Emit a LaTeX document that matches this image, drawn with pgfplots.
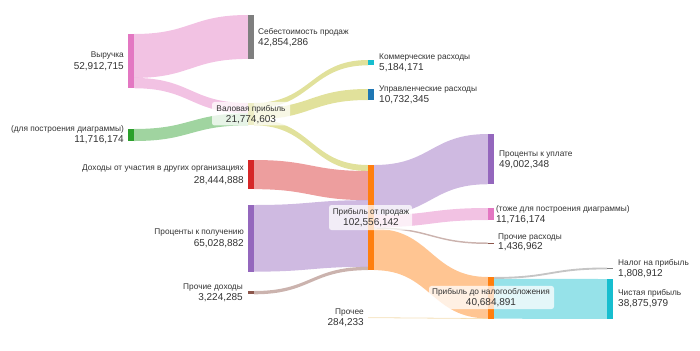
\documentclass[border=0pt]{standalone}
\usepackage{fontspec}
\setmainfont{Liberation Sans}
\usepackage{pgfplots}
\pgfplotsset{compat=1.18}
\definecolor{cpink}{HTML}{E377C2}
\definecolor{cgray}{HTML}{7F7F7F}
\definecolor{cgreen}{HTML}{2CA02C}
\definecolor{colive}{HTML}{BCBD22}
\definecolor{ccyan}{HTML}{17BECF}
\definecolor{cblue}{HTML}{1F77B4}
\definecolor{cred}{HTML}{D62728}
\definecolor{cpurple}{HTML}{9467BD}
\definecolor{cbrown}{HTML}{8C564B}
\definecolor{corange}{HTML}{FF7F0E}
\definecolor{ctext}{HTML}{333333}
\definecolor{cpale}{HTML}{E9C070}
% flow: x0, xm, x1, y0top, y0bot, y1top, y1bot, colour
\newcommand{\flow}[8]{\fill[#8, fill opacity=0.45] (axis cs:#1,#4) .. controls (axis cs:#2,#4) and (axis cs:#2,#6) .. (axis cs:#3,#6) -- (axis cs:#3,#7) .. controls (axis cs:#2,#7) and (axis cs:#2,#5) .. (axis cs:#1,#5) -- cycle;}
% node bar: x0, x1, top, bottom, colour
\newcommand{\nodebar}[5]{\addplot[fill=#5, draw=none, mark=none] coordinates {(#1,#3) (#2,#3) (#2,#4) (#1,#4)};}
\newcommand{\nm}{\fontsize{8.3bp}{9bp}\selectfont}
\newcommand{\vl}{\fontsize{10bp}{11bp}\selectfont}
\begin{document}
\begin{tikzpicture}
\begin{axis}[name=ax, width=700bp, height=350bp, scale only axis, hide axis,
  xmin=0, xmax=700, ymin=0, ymax=341.4634, y dir=reverse, clip=false]
% ---- flows
\flow{134}{191}{248}{33.17}{76.02}{14.63}{57.49}{cpink}
\flow{134}{191}{248}{76.02}{86.08}{100.49}{110.55}{cpink}
\flow{134}{191}{248}{125.85}{137.57}{110.55}{122.27}{cgreen}
\flow{254}{311}{368}{100.49}{105.67}{58.54}{63.72}{colive}
\flow{254}{311}{368}{105.67}{116.40}{86.83}{97.56}{colive}
\flow{254}{311}{368}{116.40}{122.26}{160.98}{166.84}{colive}
\flow{254}{311}{368}{156.10}{184.54}{166.84}{195.28}{cred}
\flow{254}{311}{368}{200.00}{265.03}{195.28}{260.31}{cpurple}
\flow{254}{311}{368}{283.90}{287.12}{260.31}{263.53}{cbrown}
\flow{374}{431}{488}{160.98}{209.98}{130.73}{179.73}{cpurple}
\flow{374}{431}{488}{209.98}{221.70}{202.93}{214.65}{cpink}
\flow{374}{431}{488}{221.70}{223.14}{236.59}{238.03}{cbrown}
\flow{374}{431}{488}{223.14}{263.54}{270.24}{310.64}{corange}
\flow{368}{428}{488}{309.76}{310.04}{310.64}{310.92}{cpale}
\draw[cpale, opacity=0.35, line width=0.8bp] (axis cs:368,309.9) .. controls (axis cs:428,309.9) and (axis cs:428,310.78) .. (axis cs:488,310.78);
\flow{494}{550.5}{607}{270.24}{272.05}{260.98}{262.79}{cgray}
\flow{494}{550.5}{607}{272.05}{310.93}{272.20}{311.08}{ccyan}
% ---- nodes
\nodebar{128}{134}{33.17}{86.08}{cpink}
\nodebar{248}{254}{14.63}{57.49}{cgray}
\nodebar{128}{134}{125.85}{137.57}{cgreen}
\nodebar{248}{254}{100.49}{122.26}{colive}
\nodebar{368}{374}{58.54}{63.72}{ccyan}
\nodebar{368}{374}{86.83}{97.56}{cblue}
\nodebar{248}{254}{156.10}{184.54}{cred}
\nodebar{248}{254}{200.00}{265.03}{cpurple}
\nodebar{248}{254}{283.90}{287.12}{cbrown}
\nodebar{368}{374}{160.98}{263.54}{corange}
\nodebar{488}{494}{130.73}{179.73}{cpurple}
\nodebar{488}{494}{202.93}{214.65}{cpink}
\nodebar{488}{494}{236.59}{238.03}{cbrown}
\nodebar{488}{494}{270.24}{310.93}{corange}
\nodebar{607}{613}{260.98}{262.79}{cgray}
\nodebar{607}{613}{272.20}{311.08}{ccyan}
% ---- label boxes
\fill[white, fill opacity=0.75, rounded corners=2.5bp] (axis cs:212,99.5) rectangle (axis cs:290,122.4);
\fill[white, fill opacity=0.75, rounded corners=2.5bp] (axis cs:329,200.0) rectangle (axis cs:412,224.4);
\fill[white, fill opacity=0.75, rounded corners=2.5bp] (axis cs:429,279.0) rectangle (axis cs:554,301.5);
% ---- labels, left of node
\node[anchor=east, inner sep=0pt, text=ctext] at (axis cs:124,54.2) {\nm Выручка};
\node[anchor=east, inner sep=0pt, text=ctext] at (axis cs:124,65.4) {\vl 52,912,715};
\node[anchor=east, inner sep=0pt, text=ctext] at (axis cs:124,125.8) {\nm (для построения диаграммы)};
\node[anchor=east, inner sep=0pt, text=ctext] at (axis cs:124,136.5) {\vl 11,716,174};
\node[anchor=east, inner sep=0pt, text=ctext] at (axis cs:244,164.2) {\nm Доходы от участия в других организациях};
\node[anchor=east, inner sep=0pt, text=ctext] at (axis cs:244,176.1) {\vl 28,444,888};
\node[anchor=east, inner sep=0pt, text=ctext] at (axis cs:244,227.0) {\nm Проценты к получению};
\node[anchor=east, inner sep=0pt, text=ctext] at (axis cs:244,237.6) {\vl 65,028,882};
\node[anchor=east, inner sep=0pt, text=ctext] at (axis cs:243,280.2) {\nm Прочие доходы};
\node[anchor=east, inner sep=0pt, text=ctext] at (axis cs:243,290.7) {\vl 3,224,285};
\node[anchor=east, inner sep=0pt, text=ctext] at (axis cs:364,304.6) {\nm Прочее};
\node[anchor=east, inner sep=0pt, text=ctext] at (axis cs:364,315.1) {\vl 284,233};
% ---- labels, right of node
\node[anchor=west, inner sep=0pt, text=ctext] at (axis cs:258,31.5) {\nm Себестоимость продаж};
\node[anchor=west, inner sep=0pt, text=ctext] at (axis cs:258,41.95) {\vl 42,854,286};
\node[anchor=west, inner sep=0pt, text=ctext] at (axis cs:379,55.8) {\nm Коммерческие расходы};
\node[anchor=west, inner sep=0pt, text=ctext] at (axis cs:379,65.9) {\vl 5,184,171};
\node[anchor=west, inner sep=0pt, text=ctext] at (axis cs:379,87.5) {\nm Управленческие расходы};
\node[anchor=west, inner sep=0pt, text=ctext] at (axis cs:379,97.1) {\vl 10,732,345};
\node[anchor=west, inner sep=0pt, text=ctext] at (axis cs:499,150.4) {\nm Проценты к уплате};
\node[anchor=west, inner sep=0pt, text=ctext] at (axis cs:499,160.5) {\vl 49,002,348};
\node[anchor=west, inner sep=0pt, text=ctext] at (axis cs:496,204.1) {\nm (тоже для построения диаграммы)};
\node[anchor=west, inner sep=0pt, text=ctext] at (axis cs:496,214.1) {\vl 11,716,174};
\node[anchor=west, inner sep=0pt, text=ctext] at (axis cs:498,231.4) {\nm Прочие расходы};
\node[anchor=west, inner sep=0pt, text=ctext] at (axis cs:498,241.0) {\vl 1,436,962};
\node[anchor=west, inner sep=0pt, text=ctext] at (axis cs:618,256.8) {\nm Налог на прибыль};
\node[anchor=west, inner sep=0pt, text=ctext] at (axis cs:618,266.8) {\vl 1,808,912};
\node[anchor=west, inner sep=0pt, text=ctext] at (axis cs:618,286.1) {\nm Чистая прибыль};
\node[anchor=west, inner sep=0pt, text=ctext] at (axis cs:618,296.1) {\vl 38,875,979};
% ---- labels, centred on node
\node[inner sep=0pt, text=ctext] at (axis cs:251,106.5) {\nm Валовая прибыль};
\node[inner sep=0pt, text=ctext] at (axis cs:251,117.1) {\vl 21,774,603};
\node[inner sep=0pt, text=ctext] at (axis cs:371,207.0) {\nm Прибыль от продаж};
\node[inner sep=0pt, text=ctext] at (axis cs:371,217.6) {\vl 102,556,142};
\node[inner sep=0pt, text=ctext] at (axis cs:491,285.1) {\nm Прибыль до налогообложения};
\node[inner sep=0pt, text=ctext] at (axis cs:491,295.1) {\vl 40,684,891};
\end{axis}
\pgfresetboundingbox
\path[use as bounding box] (ax.south west) rectangle (ax.north east);
\end{tikzpicture}
\end{document}
